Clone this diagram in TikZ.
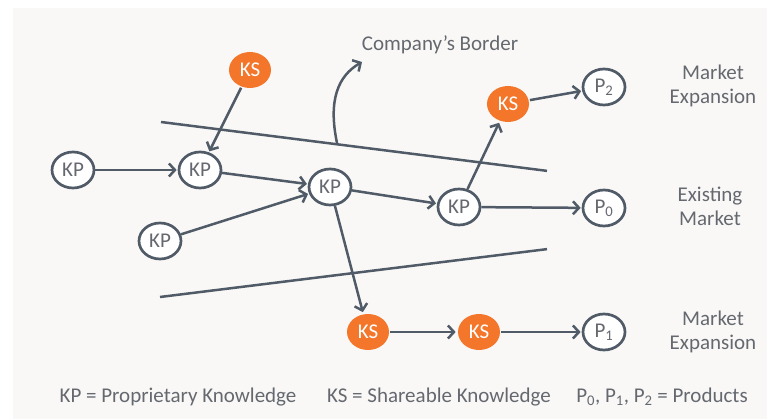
\documentclass[tikz,border=0pt]{standalone}
\usepackage{fontspec}
\setmainfont{Carlito}
\usetikzlibrary{arrows.meta,shapes.geometric,positioning}

\definecolor{edgegray}{HTML}{505B67}
\definecolor{textgray}{HTML}{65696F}
\definecolor{ksorange}{HTML}{F3762B}
\definecolor{bggray}{HTML}{F9F8F7}

\begin{document}
\begin{tikzpicture}[
    x = 1pt, y = -1pt, % pixel units, y runs down
    > = {Straight Barb[length=6pt,width=13pt]}, % open arrow head
    shorten > = 1pt, % don't touch arrow head to node
    line width = 2.5pt, % line style
    font = \fontsize{21}{24}\selectfont,
    text = textgray
    ]

    \tikzset{kp/.style={
        ellipse,
        draw = edgegray,
        fill = white,
        line width = 2.7pt,
        minimum width = 42pt,
        minimum height = 36pt,
        inner sep = 0pt
        },
        ks/.style={
        kp,
        draw = none,
        fill = ksorange,
        text = white
        },
        market/.style={align = center},
        flow/.style={->, draw = edgegray}
    }

    % margins and background
    \useasboundingbox (0,0) rectangle (776,419);
    \fill[bggray] (13,8) rectangle (767,419);

    % company's border
    \coordinate (b1) at (161,122);
    \coordinate (b2) at (548,171);
    \coordinate (b3) at (160,297);
    \coordinate (b4) at (548,249);
    \draw[edgegray] (b1) -- (b2);
    \draw[edgegray] (b3) -- (b4);
    \coordinate (bs) at (337,143);
    \node (border) at (440,45) {Company’s Border};
    \coordinate (be) at (362,62);
    \draw[->, edgegray, shorten > = 0pt] (bs) .. controls (328,100) and (338,76) .. (be);

    % knowledge nodes
    \node[ks] (ks1) at (250,70) {KS};
    \node[kp] (kp1) at (73,170) {KP};
    \node[kp] (kp2) at (200,170) {KP};
    \node[kp] (kp3) at (330,187) {KP};
    \node[kp] (kp4) at (160,241) {KP};
    \node[kp] (kp5) at (459,207) {KP};
    \node[ks] (ks2) at (508,104) {KS};
    \node[ks] (ks3) at (368,332) {KS};
    \node[ks] (ks4) at (479,332) {KS};

    % products
    \node[kp] (p2) at (604,87) {P\textsubscript{2}};
    \node[kp] (p0) at (604,208) {P\textsubscript{0}};
    \node[kp] (p1) at (604,332) {P\textsubscript{1}};

    \node[market] (m2) at (713,86) {Market\\Expansion};
    \node[market] (m0) at (710,206) {Existing\\Market};
    \node[market] (m1) at (713,332) {Market\\Expansion};

    \path[flow] (ks1) edge (kp2);
    \path[flow] (kp1) edge (kp2);
    \path[flow] (kp2) edge (kp3);
    \path[flow] (kp4) edge (kp3);
    \path[flow] (kp3) edge (kp5);
    \path[flow] (kp3) edge (ks3);
    \path[flow] (kp5) edge (ks2);
    \path[flow] (kp5) edge (p0);
    \path[flow] (ks2) edge (p2);
    \path[flow] (ks3) edge (ks4);
    \path[flow] (ks4) edge (p1);

    % legend
    \node (lkp) at (178,397) {KP = Proprietary Knowledge};
    \node (lks) at (439,397) {KS = Shareable Knowledge};
    \node (lp) at (662,397) {P\textsubscript{0}, P\textsubscript{1}, P\textsubscript{2} = Products};
\end{tikzpicture}
\end{document}
